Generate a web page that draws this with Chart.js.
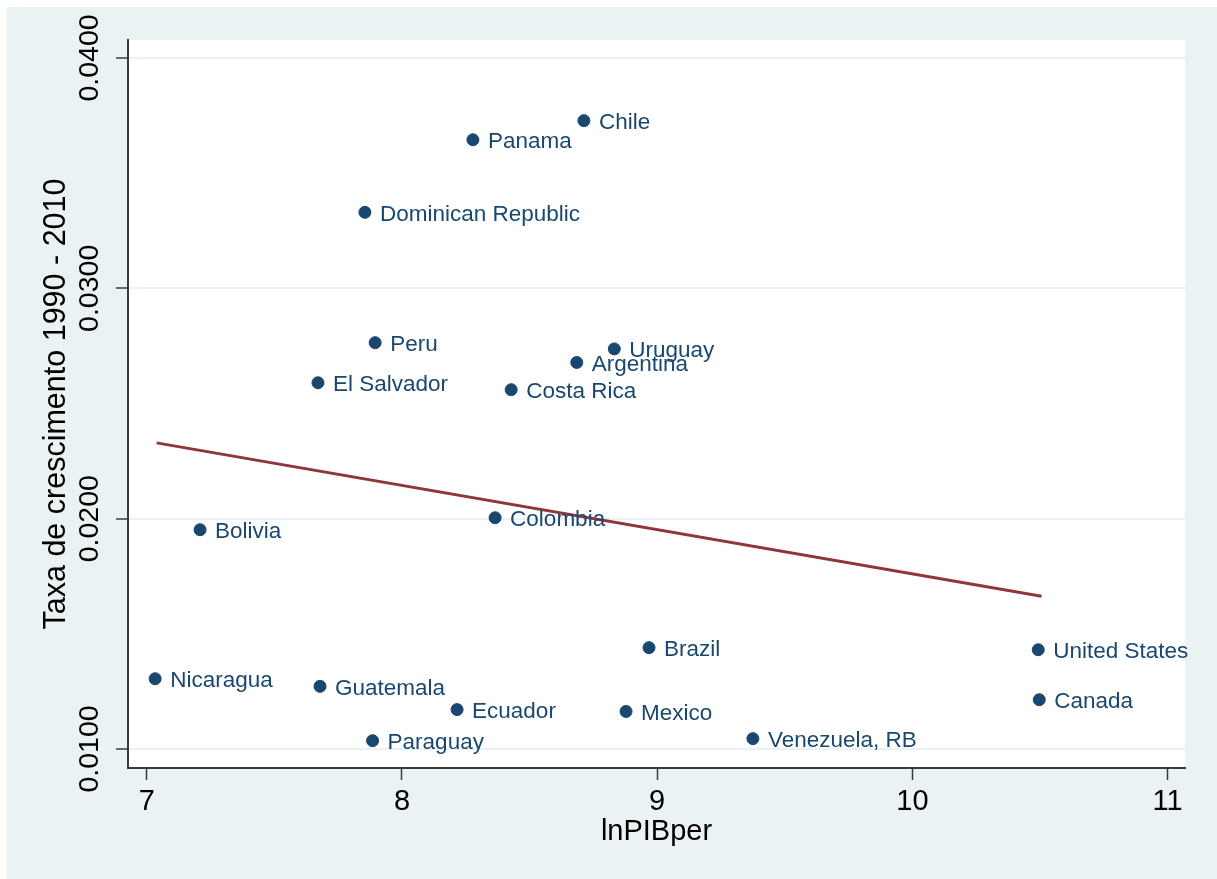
<!DOCTYPE html>
<html>
<head>
<meta charset="utf-8">
<script src="https://cdn.jsdelivr.net/npm/chart.js@4.4.1/dist/chart.umd.min.js"></script>
<style>
  html, body { margin: 0; padding: 0; background: #ffffff; overflow: hidden; }
  canvas { display: block; }
</style>
</head>
<body>
<canvas id="chart" width="1217" height="879"></canvas>
<script>
// Country observations: log GDP per capita vs. growth rate 1990-2010
const countries = [
  'Chile', 'Panama', 'Dominican Republic', 'Peru', 'Uruguay', 'Argentina',
  'El Salvador', 'Costa Rica', 'Colombia', 'Bolivia', 'Brazil', 'United States',
  'Nicaragua', 'Guatemala', 'Canada', 'Ecuador', 'Mexico', 'Paraguay', 'Venezuela, RB'
];
const lnPIBper = [
  8.713, 8.278, 7.855, 7.895, 8.832, 8.685,
  7.671, 8.428, 8.365, 7.209, 8.968, 10.493,
  7.033, 7.679, 10.497, 8.216, 8.878, 7.885, 9.375
];
const taxaCrescimento = [
  0.03728, 0.03645, 0.03330, 0.02764, 0.02737, 0.02678,
  0.02590, 0.02560, 0.02004, 0.01952, 0.01440, 0.01431,
  0.01305, 0.01272, 0.01214, 0.01171, 0.01163, 0.01036, 0.01045
];

// Fitted values (linear fit) at the ends of the x range
const fitX = [7.039, 10.506];
const fitY = [0.02329, 0.01663];

const xTicks = [7, 8, 9, 10, 11];
const yTicks = [0.01, 0.02, 0.03, 0.04];

const FONT = '"Liberation Sans", Arial, Helvetica, sans-serif';
const MARKER = '#1a476f';
const FITLINE = '#90353b';
const REGION = '#eaf2f3';
const AXIS = '#3a3a3a';

Chart.defaults.font.family = FONT;

// Graph region and plot region fills
const background = {
  id: 'background',
  beforeDraw(chart) {
    const { ctx, width, height, chartArea: a } = chart;
    ctx.save();
    ctx.fillStyle = '#ffffff';
    ctx.fillRect(0, 0, width, height);
    ctx.fillStyle = REGION;
    ctx.fillRect(7, 7, width - 7, height - 7);
    ctx.fillStyle = '#ffffff';
    ctx.fillRect(a.left, a.top, a.right - a.left, a.bottom - a.top);
    ctx.restore();
  }
};

// Vertical y tick labels, centred on their ticks
const yTickLabels = {
  id: 'yTickLabels',
  afterDraw(chart) {
    const s = chart.scales.y;
    const ctx = chart.ctx;
    ctx.save();
    ctx.font = '28.5px ' + FONT;
    ctx.fillStyle = '#000000';
    ctx.textAlign = 'center';
    ctx.textBaseline = 'middle';
    yTicks.forEach(v => {
      const py = s.getPixelForValue(v);
      ctx.save();
      ctx.translate(s.left + 83, py);
      ctx.rotate(-Math.PI / 2);
      ctx.fillText(v.toFixed(4), 0, 0);
      ctx.restore();
    });
    ctx.restore();
  }
};

// Country name to the right of each marker
const pointLabels = {
  id: 'pointLabels',
  afterDatasetsDraw(chart) {
    const ctx = chart.ctx;
    const meta = chart.getDatasetMeta(0);
    ctx.save();
    ctx.font = '22.5px ' + FONT;
    ctx.fillStyle = MARKER;
    ctx.textAlign = 'left';
    ctx.textBaseline = 'middle';
    meta.data.forEach((el, i) => {
      ctx.fillText(countries[i], el.x + 15, el.y + 2);
    });
    ctx.restore();
  }
};

const scatterData = lnPIBper.map((x, i) => ({ x, y: taxaCrescimento[i] }));
const fitData = fitX.map((x, i) => ({ x, y: fitY[i] }));

new Chart(document.getElementById('chart'), {
  type: 'scatter',
  data: {
    datasets: [
      {
        label: 'Taxa de crescimento 1990 - 2010',
        data: scatterData,
        pointRadius: 6,
        pointBorderWidth: 1,
        pointBackgroundColor: MARKER,
        pointBorderColor: MARKER,
        showLine: false,
        order: 1
      },
      {
        type: 'line',
        label: 'Fitted values',
        data: fitData,
        borderColor: FITLINE,
        borderWidth: 3,
        pointRadius: 0,
        fill: false,
        tension: 0,
        order: 2
      }
    ]
  },
  options: {
    responsive: false,
    animation: false,
    devicePixelRatio: 1,
    layout: { padding: { left: 7, top: 40, right: 32, bottom: 0 } },
    plugins: {
      legend: { display: false },
      tooltip: { enabled: false }
    },
    scales: {
      x: {
        type: 'linear',
        position: 'bottom',
        min: 6.9267,
        max: 11.068,
        afterBuildTicks(scale) { scale.ticks = xTicks.map(v => ({ value: v })); },
        afterFit(scale) { scale.height = 111; },
        ticks: {
          color: '#000000',
          font: { size: 29, lineHeight: 1 },
          padding: 7.5,
          maxRotation: 0,
          callback: v => String(v)
        },
        grid: {
          drawOnChartArea: false,
          drawTicks: true,
          tickLength: 12,
          tickColor: AXIS,
          tickWidth: 1.5
        },
        border: { display: true, color: AXIS, width: 2 },
        title: {
          display: true,
          text: 'lnPIBper',
          color: '#000000',
          font: { size: 29, lineHeight: 1 },
          padding: { top: 0, bottom: 32.5 }
        }
      },
      y: {
        type: 'linear',
        position: 'left',
        min: 0.009175,
        max: 0.040781,
        afterBuildTicks(scale) { scale.ticks = yTicks.map(v => ({ value: v })); },
        afterFit(scale) { scale.width = 121; },
        ticks: { display: false },
        grid: {
          drawOnChartArea: true,
          color: REGION,
          lineWidth: 2,
          drawTicks: true,
          tickLength: 12,
          tickColor: AXIS,
          tickWidth: 1.5
        },
        border: { display: true, color: AXIS, width: 2 },
        title: {
          display: true,
          text: 'Taxa de crescimento 1990 - 2010',
          color: '#000000',
          font: { size: 30.5, lineHeight: 1 },
          padding: { top: 34, bottom: 0 }
        }
      }
    }
  },
  plugins: [background, yTickLabels, pointLabels]
});
</script>
</body>
</html>
